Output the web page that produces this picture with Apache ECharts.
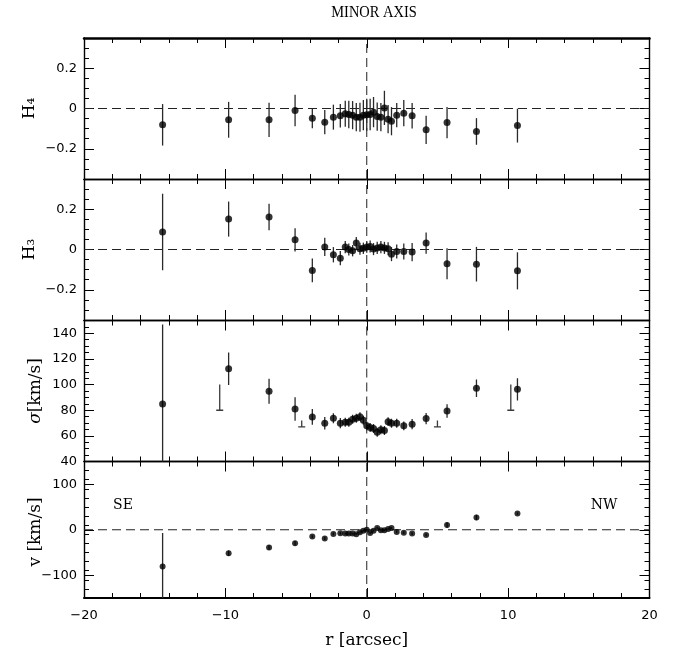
<!DOCTYPE html>
<html>
<head>
<meta charset="utf-8">
<script src="https://cdn.jsdelivr.net/npm/echarts@6/dist/echarts.min.js"></script>
<style>
  html, body { margin: 0; padding: 0; background: #fff; }
  #chart { width: 679px; height: 650px; }
</style>
</head>
<body>
<div id="chart"></div>
<script>
// Radial positions along the minor axis [arcsec]
const radius = [-14.44, -9.77, -6.91, -5.07, -3.85, -2.97, -2.36, -1.87,
  -1.52, -1.27, -1.0, -0.74, -0.48, -0.24, 0.0, 0.24, 0.48, 0.74, 1.0, 1.25, 1.51, 1.75,
  2.12, 2.62, 3.21, 4.2, 5.68, 7.76, 10.66];

// Gauss-Hermite h4
const h4 = [-0.081, -0.056, -0.056, -0.010, -0.048, -0.068, -0.043, -0.036,
  -0.026, -0.030, -0.033, -0.043, -0.043, -0.033, -0.031, -0.030, -0.018, -0.040, -0.043, 0.003, -0.053, -0.063,
  -0.033, -0.023, -0.036, -0.106, -0.070, -0.114, -0.085];
const h4Err = [0.103, 0.089, 0.085, 0.078, 0.050, 0.060, 0.062, 0.058,
  0.065, 0.068, 0.070, 0.070, 0.072, 0.075, 0.080, 0.078, 0.075, 0.070, 0.070, 0.085, 0.070, 0.070,
  0.060, 0.065, 0.063, 0.070, 0.078, 0.066, 0.084];

// Gauss-Hermite h3
const h3 = [0.087, 0.151, 0.161, 0.048, -0.104, 0.013, -0.026, -0.043,
  0.012, 0.000, -0.006, 0.032, 0.004, 0.006, 0.012, 0.015, 0.002, 0.008, 0.012, 0.008, 0.004, -0.023,
  -0.010, -0.010, -0.013, 0.032, -0.071, -0.073, -0.106];
const h3Err = [0.190, 0.087, 0.066, 0.058, 0.059, 0.045, 0.038, 0.035,
  0.030, 0.030, 0.028, 0.030, 0.030, 0.028, 0.028, 0.030, 0.030, 0.030, 0.030, 0.030, 0.032, 0.035,
  0.035, 0.040, 0.045, 0.053, 0.077, 0.086, 0.092];

// Velocity dispersion [km/s]
const sigma = [84.9, 112.3, 94.8, 81.0, 74.8, 69.9, 73.8, 69.9,
  70.6, 70.6, 73.0, 73.8, 75.0, 72.2, 67.8, 66.6, 65.8, 62.9, 64.7, 64.1, 71.1, 69.9,
  69.9, 67.8, 69.1, 73.5, 79.4, 97.1, 96.3];
const sigmaErr = [62, 12.7, 9.8, 9.2, 6.2, 4.9, 3.9, 4.0,
  3.5, 3.5, 3.5, 3.5, 3.5, 3.5, 3.5, 3.5, 3.5, 3.5, 3.5, 3.5, 3.5, 3.5,
  3.5, 3.5, 4.0, 4.4, 5.2, 6.8, 8.7];

// Dispersion limits (segment from lower to upper value, bar at the lower end)
const limRadius = [-10.4, -4.6, 5.0, 10.19];
const limLow = [80, 67, 67, 80];
const limHigh = [100, 72, 72, 100];

// Line-of-sight velocity [km/s]
const vel = [-80.9, -51.7, -38.9, -29.8, -14.9, -19.1, -9.1, -7.7,
  -8.5, -8.5, -8.5, -9.8, -5.5, -2.1, 0.0, -7.0, -2.1, 3.6, -1.3, -1.3, 1.5, 3.6,
  -4.9, -6.4, -8.5, -11.3, 10.6, 27.0, 35.5];
const velErr = [74, 6, 5, 5, 3, 3.5, 3, 3,
  2.5, 2.5, 2.5, 2.5, 2.5, 2.5, 2.5, 2.5, 2.5, 2.5, 2.5, 2.5, 2.5, 2.5,
  3, 3, 3, 3, 6, 6, 2.5];

// Tick labels
const rTicks = [-20, -10, 0, 10, 20];
const hTicks = [-0.2, 0, 0.2];
const sigmaTicks = [40, 60, 80, 100, 120, 140];
const velTicks = [-100, 0, 100];

function minorTicks(min, max, step, majors) {
  const out = [];
  const n = Math.round((max - min) / step);
  for (let i = 0; i <= n; i++) {
    const v = +(min + i * step).toFixed(6);
    if (!majors.some(m => Math.abs(m - v) < 1e-9)) out.push(v);
  }
  return out;
}

const minus = v => String(v).replace('-', '\u2212');
const tickFont = { fontFamily: 'DejaVu Sans', fontSize: 13, color: '#000' };

const panels = [
  { vals: h4, errs: h4Err, min: -0.35, max: 0.35, major: hTicks, minor: minorTicks(-0.35, 0.35, 0.05, hTicks), zero: true, title: 'H\u2084', dot: 7 },
  { vals: h3, errs: h3Err, min: -0.35, max: 0.35, major: hTicks, minor: minorTicks(-0.35, 0.35, 0.05, hTicks), zero: true, title: 'H\u2083', dot: 7 },
  { vals: sigma, errs: sigmaErr, min: 40, max: 150, major: sigmaTicks, minor: minorTicks(40, 150, 5, sigmaTicks), zero: false, title: '\u03c3[km/s]', dot: 7 },
  { vals: vel, errs: velErr, min: -150, max: 150, major: velTicks, minor: minorTicks(-150, 150, 20, velTicks), zero: true, title: 'v [km/s]', dot: 6 }
];

const gridTops = [38, 179, 320.5, 461.5];
const gridH = 141;
const plotLeft = 84, plotW = 565.5;
const rMinor = minorTicks(-20, 20, 2, rTicks);

const grids = [], xAxes = [], yAxes = [], series = [];

panels.forEach((p, gi) => {
  grids.push({ left: plotLeft, top: gridTops[gi], width: plotW, height: gridH, containLabel: false });
  const last = gi === panels.length - 1;

  const xBase = pos => ({
    type: 'value', gridIndex: gi, position: pos, min: -20, max: 20,
    splitLine: { show: false }, axisPointer: { show: false }
  });
  // bottom major
  xAxes.push(Object.assign(xBase('bottom'), {
    axisLine: { show: true, onZero: false, lineStyle: { color: '#000', width: last ? 2 : 1.4 } },
    axisTick: { show: true, inside: true, length: 10, customValues: rTicks, lineStyle: { color: '#000', width: 1 } },
    axisLabel: { show: last, customValues: rTicks, formatter: minus, margin: 11, ...tickFont },
    name: last ? 'r [arcsec]' : '', nameLocation: 'middle', nameGap: 34,
    nameTextStyle: { fontFamily: 'DejaVu Serif', fontSize: 17, color: '#000' }
  }));
  // bottom minor
  xAxes.push(Object.assign(xBase('bottom'), {
    axisLine: { show: false, onZero: false },
    axisTick: { show: true, inside: true, length: 5, customValues: rMinor, lineStyle: { color: '#000', width: 1 } },
    axisLabel: { show: false }
  }));
  // top major
  xAxes.push(Object.assign(xBase('top'), {
    axisLine: { show: true, onZero: false, lineStyle: { color: '#000', width: gi === 0 ? 2.5 : 1.4 } },
    axisTick: { show: true, inside: true, length: 10, customValues: rTicks, lineStyle: { color: '#000', width: 1 } },
    axisLabel: { show: false }
  }));
  // top minor
  xAxes.push(Object.assign(xBase('top'), {
    axisLine: { show: false, onZero: false },
    axisTick: { show: true, inside: true, length: 5, customValues: rMinor, lineStyle: { color: '#000', width: 1 } },
    axisLabel: { show: false }
  }));

  const yBase = pos => ({
    type: 'value', gridIndex: gi, position: pos, min: p.min, max: p.max,
    splitLine: { show: false }, axisPointer: { show: false }
  });
  yAxes.push(Object.assign(yBase('left'), {
    axisLine: { show: true, onZero: false, lineStyle: { color: '#000', width: 1.4 } },
    axisTick: { show: true, inside: true, length: 10, customValues: p.major, lineStyle: { color: '#000', width: 1 } },
    axisLabel: { show: true, customValues: p.major, formatter: minus, margin: 7, ...tickFont }
  }));
  yAxes.push(Object.assign(yBase('left'), {
    axisLine: { show: false, onZero: false },
    axisTick: { show: true, inside: true, length: 5, customValues: p.minor, lineStyle: { color: '#000', width: 1 } },
    axisLabel: { show: false }
  }));
  yAxes.push(Object.assign(yBase('right'), {
    axisLine: { show: true, onZero: false, lineStyle: { color: '#000', width: 1.4 } },
    axisTick: { show: true, inside: true, length: 10, customValues: p.major, lineStyle: { color: '#000', width: 1 } },
    axisLabel: { show: false }
  }));
  yAxes.push(Object.assign(yBase('right'), {
    axisLine: { show: false, onZero: false },
    axisTick: { show: true, inside: true, length: 5, customValues: p.minor, lineStyle: { color: '#000', width: 1 } },
    axisLabel: { show: false }
  }));

  const xi = gi * 4, yi = gi * 4;
  const dash = { color: '#222', width: 1, type: [9, 5] };

  // vertical reference line at r = 0
  series.push({
    type: 'line', xAxisIndex: xi, yAxisIndex: yi, silent: true, symbol: 'none', z: 1,
    data: [[0, p.min], [0, p.max]], lineStyle: dash
  });
  // horizontal zero line
  if (p.zero) {
    series.push({
      type: 'line', xAxisIndex: xi, yAxisIndex: yi, silent: true, symbol: 'none', z: 1,
      data: [[-20, 0], [20, 0]], lineStyle: dash
    });
  }
  // error bars
  series.push({
    type: 'custom', xAxisIndex: xi, yAxisIndex: yi, silent: true, clip: true, z: 2,
    data: radius.map((r, i) => [r, p.vals[i], p.errs[i]]),
    renderItem: (params, api) => {
      const x = api.value(0), y = api.value(1), e = api.value(2);
      const lo = api.coord([x, y - e]);
      const hi = api.coord([x, y + e]);
      return {
        type: 'line',
        shape: { x1: lo[0], y1: lo[1], x2: hi[0], y2: hi[1] },
        style: { stroke: '#2a2a2a', lineWidth: 1.3 }
      };
    }
  });
  // data points
  series.push({
    type: 'scatter', xAxisIndex: xi, yAxisIndex: yi, silent: true, z: 3,
    symbol: 'circle', symbolSize: p.dot,
    itemStyle: { color: '#000' },
    data: radius.map((r, i) => [r, p.vals[i]])
  });
  // dispersion limits
  if (p.vals === sigma) {
    series.push({
      type: 'custom', xAxisIndex: xi, yAxisIndex: yi, silent: true, clip: true, z: 2,
      data: limRadius.map((r, i) => [r, limLow[i], limHigh[i]]),
      renderItem: (params, api) => {
        const lo = api.coord([api.value(0), api.value(1)]);
        const hi = api.coord([api.value(0), api.value(2)]);
        const st = { stroke: '#3a3a3a', lineWidth: 1.3 };
        return {
          type: 'group',
          children: [
            { type: 'line', shape: { x1: lo[0], y1: lo[1], x2: hi[0], y2: hi[1] }, style: st },
            { type: 'line', shape: { x1: lo[0] - 3.5, y1: lo[1], x2: lo[0] + 3.5, y2: lo[1] }, style: st }
          ]
        };
      }
    });
  }
});

// rotated panel titles
const titleX = [30, 30, 36, 36];
const graphics = panels.map((p, gi) => ({
  type: 'text',
  x: titleX[gi], y: gridTops[gi] + gridH / 2,
  rotation: Math.PI / 2,
  style: {
    text: p.title, fill: '#000',
    font: '17px "DejaVu Serif"',
    textAlign: 'center', textVerticalAlign: 'middle'
  }
}));
// sigma: only the Greek letter is italic
graphics[2].style = {
  text: '{i|\u03c3}[km/s]', fill: '#000', font: '17px "DejaVu Serif"',
  textAlign: 'center', textVerticalAlign: 'middle',
  rich: { i: { fontStyle: 'italic', fontFamily: 'DejaVu Serif', fontSize: 17 } }
};

graphics.push({
  type: 'text', x: 374, y: 13, scaleX: 0.85,
  style: { text: 'MINOR AXIS', fill: '#000', font: '17px "Liberation Serif"', textAlign: 'center', textVerticalAlign: 'middle' }
});
graphics.push({
  type: 'text', x: 123, y: 505,
  style: { text: 'SE', fill: '#000', font: '14px "DejaVu Serif"', textAlign: 'center', textVerticalAlign: 'middle' }
});
graphics.push({
  type: 'text', x: 604, y: 505,
  style: { text: 'NW', fill: '#000', font: '14px "DejaVu Serif"', textAlign: 'center', textVerticalAlign: 'middle' }
});

const chart = echarts.init(document.getElementById('chart'), null, { renderer: 'canvas' });
chart.setOption({
  animation: false,
  backgroundColor: '#fff',
  grid: grids,
  xAxis: xAxes,
  yAxis: yAxes,
  series: series,
  graphic: graphics
});
</script>
</body>
</html>
